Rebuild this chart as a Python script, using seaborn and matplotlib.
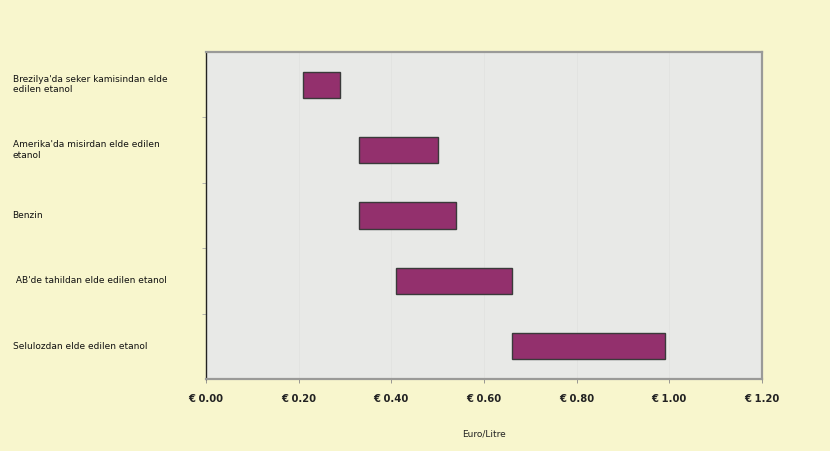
import matplotlib
matplotlib.use("Agg")
import matplotlib.pyplot as plt
import seaborn as sns
import pandas as pd

# Production cost ranges per fuel source (Euro per litre)
categories = [
    "Brezilya'da seker kamisindan elde\nedilen etanol",
    "Amerika'da misirdan elde edilen\netanol",
    "Benzin",
    " AB'de tahildan elde edilen etanol",
    "Selulozdan elde edilen etanol",
]
cost_low = [0.21, 0.33, 0.33, 0.41, 0.66]
cost_high = [0.29, 0.50, 0.54, 0.66, 0.99]
x_ticks = [0.0, 0.2, 0.4, 0.6, 0.8, 1.0, 1.2]
x_tick_labels = ["€ 0.00", "€ 0.20", "€ 0.40", "€ 0.60", "€ 0.80", "€ 1.00", "€ 1.20"]
x_title = "Euro/Litre"

df = pd.DataFrame({
    "source": categories,
    "low": cost_low,
    "high": cost_high,
})
df["span"] = df["high"] - df["low"]

sns.set_theme(style="white")
plt.rcParams["font.family"] = ["DejaVu Sans"]

fig = plt.figure(figsize=(8.3, 4.51), dpi=100)
fig.patch.set_facecolor("#f8f6cd")
ax = fig.add_axes([0.2482, 0.1596, 0.6699, 0.7251])
ax.set_facecolor("#e8e9e7")

sns.barplot(
    data=df, x="span", y="source", order=categories,
    left=df["low"].tolist(), color="#93306d", saturation=1,
    edgecolor="#3a3a3a", linewidth=1.0, width=0.4, ax=ax,
)

ax.set_xlim(0, 1.2)
ax.set_ylim(4.5, -0.5)
ax.set_xticks(x_ticks)
ax.set_xticklabels(x_tick_labels, fontsize=7.2, fontweight="bold", color="#222222")
ax.tick_params(axis="x", length=3, width=0.6, color="#888888", pad=8, bottom=True)

# Faint vertical guides at each tick
for t in x_ticks[1:-1]:
    ax.axvline(t, color="#e1e2e0", linewidth=0.6, zorder=0)

# Category boundary ticks on the left axis
ax.set_yticks([0.5, 1.5, 2.5, 3.5])
ax.set_yticklabels([])
ax.tick_params(axis="y", length=3, width=0.6, color="#aaaaaa", left=True)
for i, label in enumerate(categories):
    ax.text(-0.348, i, label.strip("\n"), transform=ax.get_yaxis_transform(),
            ha="left", va="center", fontsize=6.5, color="#111111",
            linespacing=1.2)

ax.set_xlabel(x_title, fontsize=6.5, labelpad=18, color="#222222")
ax.set_ylabel("")

for side in ["top", "right", "bottom"]:
    ax.spines[side].set_visible(True)
    ax.spines[side].set_color("#9a9a98")
    ax.spines[side].set_linewidth(1.6)
ax.spines["left"].set_color("#222222")
ax.spines["left"].set_linewidth(1.0)

fig.savefig("out.png", dpi=100, facecolor=fig.get_facecolor())
